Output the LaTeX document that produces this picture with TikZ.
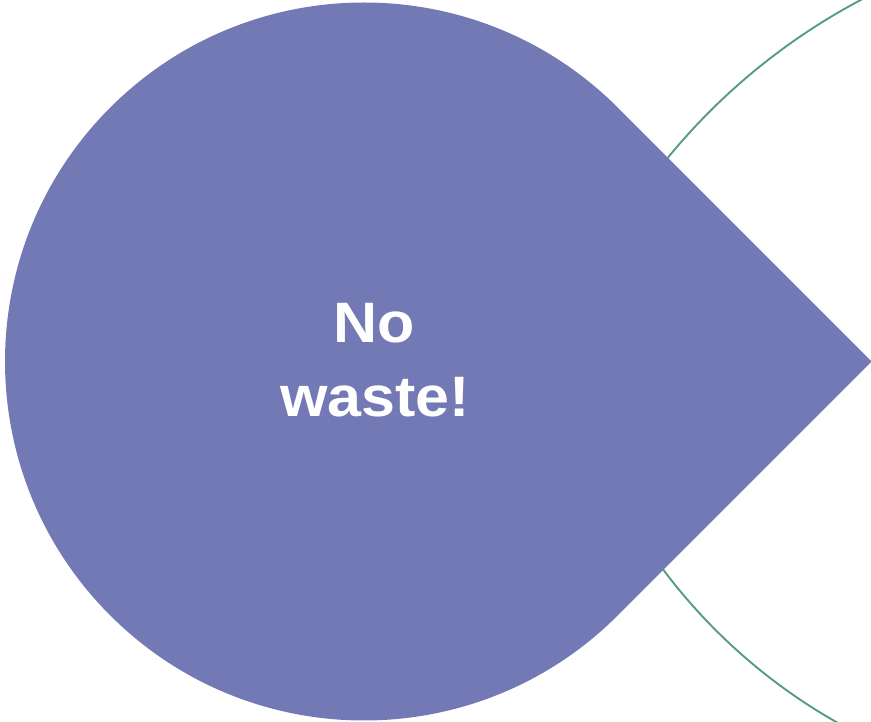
\documentclass[tikz,border=0pt]{standalone}
\usepackage{fontspec}
\setmainfont{Liberation Sans}
\newfontfamily\dropfont[FakeStretch=1.07]{Liberation Sans}
\usetikzlibrary{calc}
\definecolor{dropfill}{RGB}{115,121,181}
\definecolor{arcgreen}{RGB}{82,157,130}
\tikzset{
  arcline/.style={draw=arcgreen, line width=1.9pt},
  droptext/.style={text=white, font=\dropfont\bfseries\fontsize{57}{68}\selectfont, inner sep=0pt, anchor=base}
}
\begin{document}
\begin{tikzpicture}[x=1pt,y=1pt]
  \useasboundingbox (0,0) rectangle (871,721);
  \clip (0,0) rectangle (871,721);
  % green arcs (partly hidden behind the drop)
  \draw[arcline] (1156.5,162.5) ++(145:632) arc[start angle=145, end angle=110, radius=632];
  \draw[arcline] (1116,491) ++(212:566) arc[start angle=212, end angle=248, radius=566];
  % teardrop
  \coordinate (tip) at (871.7,359.5);
  \coordinate (c) at (364,359.5);
  \fill[dropfill] (tip) -- ($(c)+(45:359)$) arc[start angle=45, end angle=315, radius=359] -- cycle;
  \node[droptext] (no) at (374.5,378) {No};
  \node[droptext] (waste) at (375,304) {waste!};
\end{tikzpicture}
\end{document}
